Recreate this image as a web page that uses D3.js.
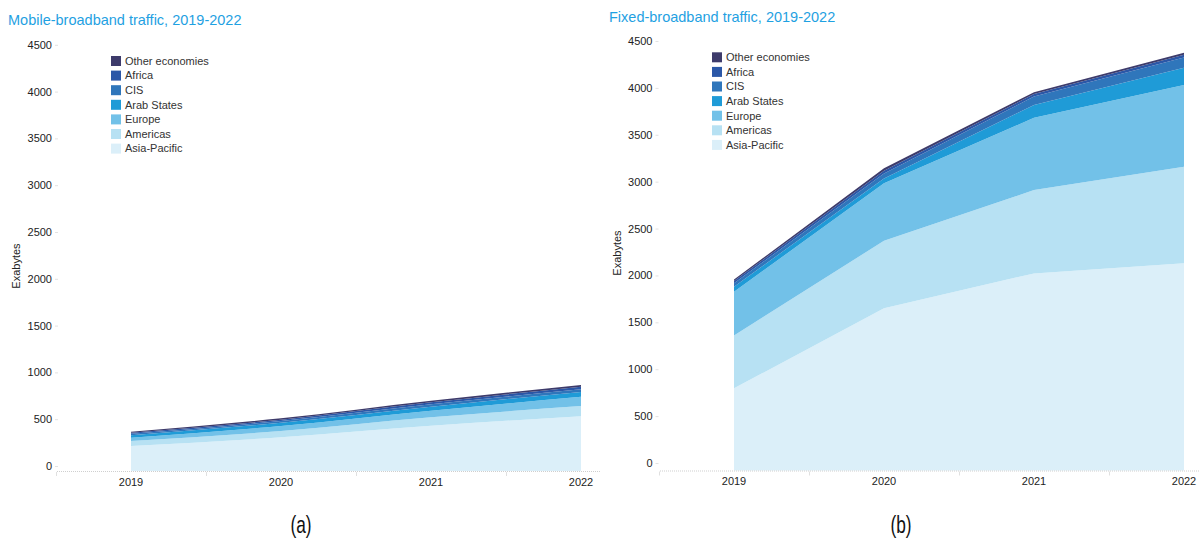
<!DOCTYPE html>
<html>
<head>
<meta charset="utf-8">
<script src="https://cdn.jsdelivr.net/npm/d3@7"></script>
<style>
  html, body { margin: 0; padding: 0; background: #fff; }
  svg { display: block; font-family: "Liberation Sans", Arial, sans-serif; }
</style>
</head>
<body>
<svg id="chart" width="1203" height="540"></svg>
<script>
// Years on the x axis
const years = ["2019", "2020", "2021", "2022"];
// Regions, bottom of the stack first
const regions = ["Asia-Pacific", "Americas", "Europe", "Arab States", "CIS", "Africa", "Other economies"];
const regionColors = ["#dbeff9", "#b7e1f3", "#72c1e8", "#1f9bd7", "#2f76bb", "#2b57a7", "#3d3b6b"];
const yTicks = [0, 500, 1000, 1500, 2000, 2500, 3000, 3500, 4000, 4500];

// Mobile-broadband traffic (exabytes) by region
const mobileAsiaPacific = [267, 360, 484, 584];
const mobileAmericas    = [54, 67, 90, 110];
const mobileEurope      = [35, 54, 70, 100];
const mobileArabStates  = [25, 35, 43, 50];
const mobileCIS         = [17, 18, 26, 29];
const mobileAfrica      = [11, 14, 21, 28];
const mobileOther       = [11, 15, 17, 18];

// Fixed-broadband traffic (exabytes) by region
const fixedAsiaPacific = [876, 1729, 2102, 2209];
const fixedAmericas    = [563, 721, 888, 1030];
const fixedEurope      = [467, 612, 771, 871];
const fixedArabStates  = [54, 53, 136, 184];
const fixedCIS         = [36, 53, 90, 110];
const fixedAfrica      = [24, 28, 27, 30];
const fixedOther       = [16, 26, 20, 20];

function toRows(series) {
  return years.map((yr, i) => {
    const row = { year: yr };
    regions.forEach((r, k) => { row[r] = series[k][i]; });
    return row;
  });
}

const mobileRows = toRows([mobileAsiaPacific, mobileAmericas, mobileEurope, mobileArabStates, mobileCIS, mobileAfrica, mobileOther]);
const fixedRows  = toRows([fixedAsiaPacific, fixedAmericas, fixedEurope, fixedArabStates, fixedCIS, fixedAfrica, fixedOther]);

const svg = d3.select("#chart");

function panel(cfg) {
  const g = svg.append("g");

  const x = d3.scaleBand().domain(years).range([cfg.x0, cfg.x0 + 600]).padding(0);
  const xc = d => x(d) + x.bandwidth() / 2;
  const y = d3.scaleLinear().domain([0, 4500]).range([cfg.base, cfg.base - cfg.span]);

  // Title
  g.append("text")
    .attr("x", cfg.titleX).attr("y", cfg.titleY)
    .attr("dy", "0.35em")
    .attr("fill", "#1fa1e2")
    .style("font-size", "14.5px")
    .text(cfg.title);

  // Stacked areas
  const stacked = d3.stack().keys(regions)(cfg.rows);
  const area = d3.area()
    .x(d => xc(d.data.year))
    .y0(d => y(d[0]))
    .y1(d => y(d[1]))
    .curve(cfg.curve);

  g.append("g").selectAll("path")
    .data(stacked)
    .join("path")
    .attr("d", area)
    .attr("fill", (d, i) => regionColors[i]);

  // Y axis (labels sit slightly above their values)
  const yLab = y.copy().range(y.range().map(v => v - cfg.labelLift));
  const ya = g.append("g")
    .attr("transform", `translate(${cfg.yAxisX},0)`)
    .call(d3.axisLeft(yLab).tickValues(yTicks).tickSize(3).tickPadding(3).tickFormat(d3.format("d")));
  ya.select(".domain").remove();
  ya.selectAll(".tick line").attr("stroke", "#e2e2e2");
  ya.selectAll(".tick text").attr("fill", "#222").style("font-size", "11px").style("font-family", '"Liberation Sans", Arial, sans-serif');

  g.append("text")
    .attr("transform", `translate(${cfg.yTitleX},${cfg.yTitleY}) rotate(-90)`)
    .attr("text-anchor", "middle")
    .attr("dy", "0.35em")
    .attr("fill", "#222")
    .style("font-size", "11px")
    .text("Exabytes");

  // X axis: dotted baseline, boundary ticks, year labels
  g.append("line")
    .attr("x1", cfg.x0 + 1).attr("x2", cfg.axisEnd)
    .attr("y1", cfg.base + 0.5).attr("y2", cfg.base + 0.5)
    .attr("stroke", "#cfcfcf").attr("stroke-dasharray", "1,1");
  g.append("g").selectAll("line")
    .data(years)
    .join("line")
    .attr("x1", d => x(d) + 0.5).attr("x2", d => x(d) + 0.5)
    .attr("y1", cfg.base + 1).attr("y2", cfg.base + 5)
    .attr("stroke", "#e0e0e0");

  const xa = g.append("g")
    .attr("transform", `translate(0,${cfg.base + 3})`)
    .call(d3.axisBottom(x).tickSize(0).tickPadding(4));
  xa.select(".domain").remove();
  xa.selectAll(".tick text").attr("fill", "#222").style("font-size", "11px").style("font-family", '"Liberation Sans", Arial, sans-serif');

  // Legend, top entry first
  const legend = g.append("g").selectAll("g")
    .data(regions.slice().reverse())
    .join("g")
    .attr("transform", (d, i) => `translate(${cfg.legX},${cfg.legY + i * 14.6})`);
  legend.append("rect")
    .attr("x", 0).attr("y", -5).attr("width", 10).attr("height", 10)
    .attr("fill", d => regionColors[regions.indexOf(d)]);
  legend.append("text")
    .attr("x", 14).attr("y", 0).attr("dy", "0.35em")
    .attr("fill", "#333")
    .style("font-size", "11px")
    .text(d => d);

  // Panel caption, in a narrow face
  g.append("text")
    .attr("transform", `translate(${cfg.capX},525) scale(0.72,1)`)
    .attr("text-anchor", "middle")
    .attr("dy", "0.35em")
    .attr("fill", "#111")
    .style("font-family", '"Liberation Sans Narrow", "Liberation Sans", Arial, sans-serif')
    .style("font-size", "24px")
    .text(cfg.caption);
}

panel({
  title: "Mobile-broadband traffic, 2019-2022",
  titleX: 8, titleY: 20,
  rows: mobileRows,
  curve: d3.curveMonotoneX,
  x0: 56, axisEnd: 600,
  base: 471, span: 421.2, labelLift: 5,
  yAxisX: 58,
  yTitleX: 16, yTitleY: 266,
  legX: 111, legY: 61,
  capX: 301, caption: "(a)"
});

panel({
  title: "Fixed-broadband traffic, 2019-2022",
  titleX: 609, titleY: 17,
  rows: fixedRows,
  curve: d3.curveLinear,
  x0: 659, axisEnd: 1200,
  base: 470.5, span: 422, labelLift: 7.5,
  yAxisX: 658.5,
  yTitleX: 617, yTitleY: 253,
  legX: 712, legY: 57.3,
  capX: 901, caption: "(b)"
});
</script>
</body>
</html>
